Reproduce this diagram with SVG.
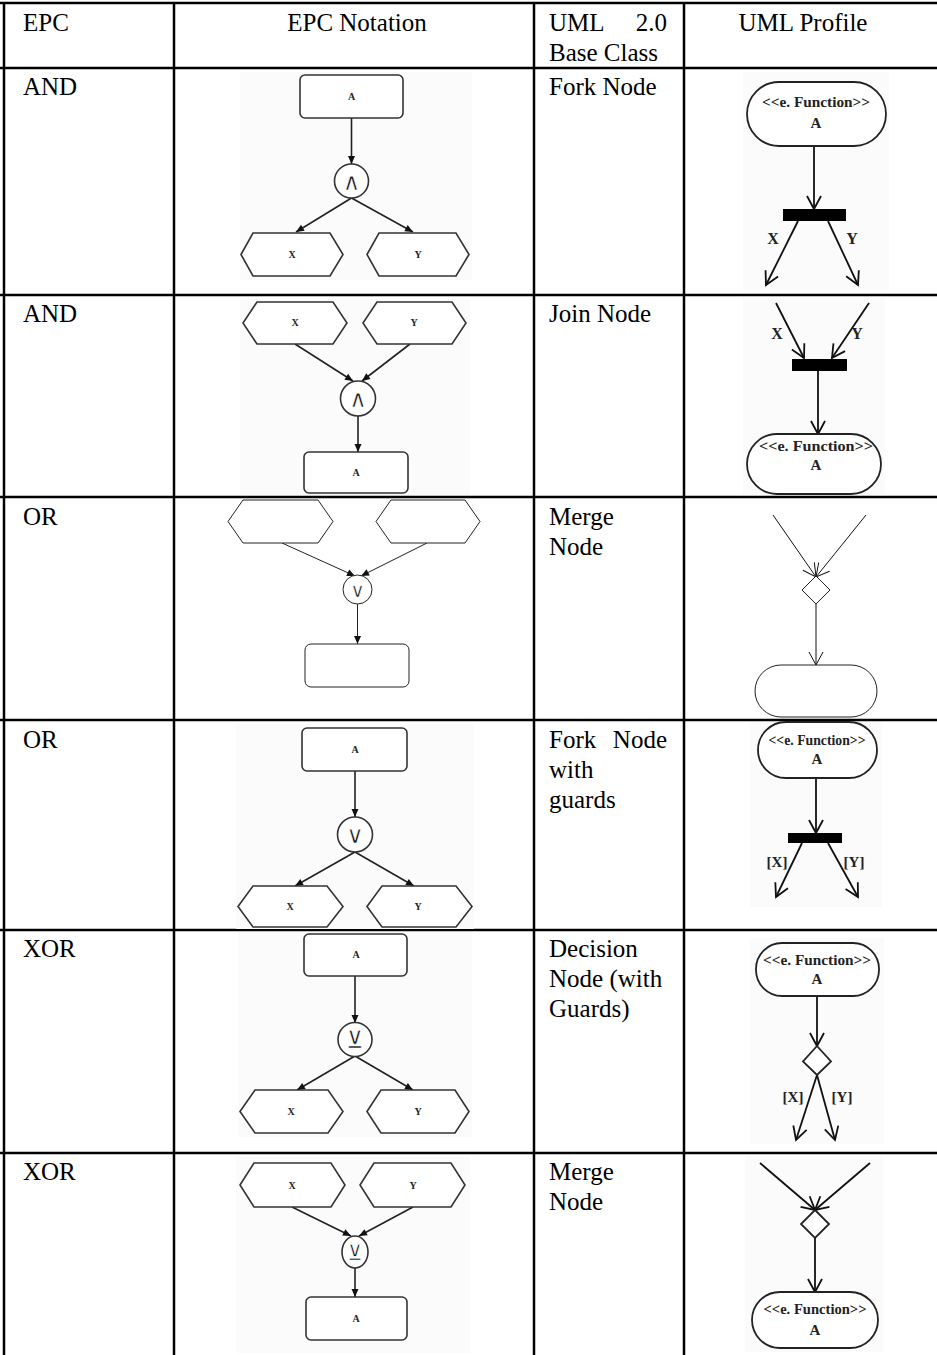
<svg xmlns="http://www.w3.org/2000/svg" width="937" height="1355" viewBox="0 0 937 1355">
<defs>
<marker id="fa" markerUnits="userSpaceOnUse" markerWidth="9" markerHeight="8" refX="8" refY="3.5" orient="auto" overflow="visible"><path d="M0,0 L8,3.5 L0,7 z" fill="#111"/></marker>
<marker id="ua" markerUnits="userSpaceOnUse" markerWidth="14" markerHeight="16" refX="13" refY="7" orient="auto" overflow="visible"><path d="M0,0 L13,7 L0,14" fill="none" stroke="#111" stroke-width="1.8"/></marker>
<marker id="ut" markerUnits="userSpaceOnUse" markerWidth="14" markerHeight="16" refX="13" refY="7" orient="auto" overflow="visible"><path d="M0,0 L13,7 L0,14" fill="none" stroke="#111" stroke-width="1"/></marker>
</defs>
<style>
.grid line{stroke:#000;stroke-width:2.5}
.t{font-family:"Liberation Serif","Times New Roman",serif;font-size:25px;fill:#000}
.bg{fill:#fbfbfb}
.e{fill:#fff;stroke:#333;stroke-width:1.6}
.ethin{fill:#fff;stroke:#222;stroke-width:1}
.lbl{font-family:"Liberation Serif","Times New Roman",serif;font-size:10px;font-weight:bold;text-anchor:middle;fill:#222}
.sym{font-family:"DejaVu Sans",sans-serif;font-size:24px;text-anchor:middle;fill:#111;stroke:#fff;stroke-width:0.6;paint-order:normal}
.ec{stroke:#222;stroke-width:1.6;fill:none}
.ecthin{stroke:#222;stroke-width:1;fill:none}
.u{fill:#fff;stroke:#222;stroke-width:1.8}
.uthin{fill:#fff;stroke:#222;stroke-width:1}
.uc{stroke:#111;stroke-width:1.8;fill:none}
.ucthin{stroke:#111;stroke-width:1;fill:none}
.bar{fill:#000}
.ut{font-family:"Liberation Serif","Times New Roman",serif;font-size:15px;font-weight:bold;text-anchor:middle;fill:#222}
.ul{font-family:"Liberation Serif","Times New Roman",serif;font-size:16px;font-weight:bold;text-anchor:middle;fill:#222}
</style>
<rect width="937" height="1355" fill="#fff"/>

<g id="table-grid" class="grid">
<line x1="0" y1="3" x2="937" y2="3"/>
<line x1="0" y1="68" x2="937" y2="68"/>
<line x1="0" y1="295" x2="937" y2="295"/>
<line x1="0" y1="497" x2="937" y2="497"/>
<line x1="0" y1="720" x2="937" y2="720"/>
<line x1="0" y1="930" x2="937" y2="930"/>
<line x1="0" y1="1153" x2="937" y2="1153"/>
<line x1="4" y1="3" x2="4" y2="1355"/>
<line x1="174" y1="3" x2="174" y2="1355"/>
<line x1="534" y1="3" x2="534" y2="1355"/>
<line x1="684" y1="3" x2="684" y2="1355"/>
</g>

<g id="cell-text" class="t">
<text x="23" y="31">EPC</text>
<text x="357" y="31" text-anchor="middle">EPC Notation</text>
<text x="549" y="31">UML</text>
<text x="667" y="31" text-anchor="end">2.0</text>
<text x="549" y="61">Base Class</text>
<text x="803" y="31" text-anchor="middle">UML Profile</text>
<text x="23" y="95">AND</text>
<text x="549" y="95">Fork Node</text>
<text x="23" y="322">AND</text>
<text x="549" y="322">Join Node</text>
<text x="23" y="525">OR</text>
<text x="549" y="525">Merge</text>
<text x="549" y="555">Node</text>
<text x="23" y="748">OR</text>
<text x="549" y="748">Fork</text>
<text x="667" y="748" text-anchor="end">Node</text>
<text x="549" y="778">with</text>
<text x="549" y="808">guards</text>
<text x="23" y="957">XOR</text>
<text x="549" y="957">Decision</text>
<text x="549" y="987">Node (with</text>
<text x="549" y="1017">Guards)</text>
<text x="23" y="1180">XOR</text>
<text x="549" y="1180">Merge</text>
<text x="549" y="1210">Node</text>
</g>

<g id="backgrounds">
<rect class="bg" x="240" y="72" width="232" height="208"/>
<rect class="bg" x="240" y="299" width="230" height="196"/>
<rect class="bg" x="236" y="724" width="238" height="205"/>
<rect class="bg" x="238" y="932" width="234" height="205"/>
<rect class="bg" x="236" y="1157" width="234" height="196"/>
<rect class="bg" x="743" y="72" width="146" height="218"/>
<rect class="bg" x="743" y="298" width="142" height="196"/>
<rect class="bg" x="750" y="722" width="132" height="185"/>
<rect class="bg" x="750" y="938" width="134" height="206"/>
<rect class="bg" x="745" y="1156" width="138" height="196"/>
</g>

<g id="connectors">
<line class="ec" x1="351.5" y1="118" x2="351.5" y2="164" marker-end="url(#fa)"/>
<line class="ec" x1="351.5" y1="198" x2="296" y2="232" marker-end="url(#fa)"/>
<line class="ec" x1="351.5" y1="198" x2="413" y2="232" marker-end="url(#fa)"/>
<line class="uc" x1="814" y1="146" x2="814" y2="209" marker-end="url(#ua)"/>
<line class="uc" x1="798" y1="221" x2="766" y2="285" marker-end="url(#ua)"/>
<line class="uc" x1="828" y1="221" x2="858" y2="285" marker-end="url(#ua)"/>
<line class="ec" x1="295" y1="344" x2="353" y2="381" marker-end="url(#fa)"/>
<line class="ec" x1="410" y1="344" x2="362" y2="381" marker-end="url(#fa)"/>
<line class="ec" x1="358" y1="416" x2="358" y2="452" marker-end="url(#fa)"/>
<line class="uc" x1="776" y1="303" x2="804" y2="358" marker-end="url(#ua)"/>
<line class="uc" x1="869" y1="303" x2="832" y2="358" marker-end="url(#ua)"/>
<line class="uc" x1="818" y1="371" x2="818" y2="434" marker-end="url(#ua)"/>
<line class="ecthin" x1="282" y1="543" x2="355" y2="576" marker-end="url(#fa)"/>
<line class="ecthin" x1="427" y1="543" x2="361" y2="576" marker-end="url(#fa)"/>
<line class="ecthin" x1="357.5" y1="604" x2="357.5" y2="644" marker-end="url(#fa)"/>
<line class="ucthin" x1="773" y1="515" x2="816" y2="577" marker-end="url(#ut)"/>
<line class="ucthin" x1="866" y1="515" x2="816" y2="577" marker-end="url(#ut)"/>
<line class="ucthin" x1="816" y1="604" x2="816" y2="665" marker-end="url(#ut)"/>
<line class="ec" x1="355" y1="771" x2="355" y2="817" marker-end="url(#fa)"/>
<line class="ec" x1="355" y1="852" x2="295" y2="886" marker-end="url(#fa)"/>
<line class="ec" x1="355" y1="852" x2="414" y2="886" marker-end="url(#fa)"/>
<line class="uc" x1="816" y1="778" x2="816" y2="833" marker-end="url(#ua)"/>
<line class="uc" x1="802" y1="843" x2="776" y2="897" marker-end="url(#ua)"/>
<line class="uc" x1="828" y1="843" x2="858" y2="897" marker-end="url(#ua)"/>
<line class="ec" x1="355" y1="976" x2="355" y2="1023" marker-end="url(#fa)"/>
<line class="ec" x1="355" y1="1056" x2="297" y2="1090" marker-end="url(#fa)"/>
<line class="ec" x1="355" y1="1056" x2="413" y2="1090" marker-end="url(#fa)"/>
<line class="uc" x1="817" y1="996" x2="817" y2="1046" marker-end="url(#ua)"/>
<line class="uc" x1="817" y1="1075" x2="796" y2="1140" marker-end="url(#ua)"/>
<line class="uc" x1="817" y1="1075" x2="835" y2="1140" marker-end="url(#ua)"/>
<line class="ec" x1="292" y1="1207" x2="351" y2="1236" marker-end="url(#fa)"/>
<line class="ec" x1="413" y1="1207" x2="359" y2="1236" marker-end="url(#fa)"/>
<line class="ec" x1="355" y1="1268" x2="355" y2="1297" marker-end="url(#fa)"/>
<line class="uc" x1="760" y1="1163" x2="815" y2="1210" marker-end="url(#ua)"/>
<line class="uc" x1="870" y1="1163" x2="815" y2="1210" marker-end="url(#ua)"/>
<line class="uc" x1="815" y1="1238" x2="815" y2="1292" marker-end="url(#ua)"/>
</g>

<g id="r1-func-A"><rect class="e" x="300" y="75" width="103" height="43" rx="5"/><text class="lbl" x="351.5" y="100">A</text></g>
<g id="r1-and"><circle class="e" cx="351.5" cy="181" r="17"/><text class="sym" x="351.5" y="189.5">∧</text></g>
<g id="r1-ev-X"><polygon class="e" points="241,254.5 253,233 330,233 343,254.5 330,276 253,276"/><text class="lbl" x="292" y="258">X</text></g>
<g id="r1-ev-Y"><polygon class="e" points="367,254.5 379,233 456,233 469,254.5 456,276 379,276"/><text class="lbl" x="418" y="258">Y</text></g>
<g id="r1-uml-A"><rect class="u" x="747" y="82" width="139" height="64" rx="32"/><text class="ut" x="816" y="107" textLength="108" lengthAdjust="spacingAndGlyphs">&lt;&lt;e. Function&gt;&gt;</text><text class="ut" x="816" y="128">A</text></g>
<g id="r1-fork"><rect class="bar" x="783" y="209" width="63" height="12"/></g>
<g id="r1-uml-labels"><text class="ul" x="773" y="244">X</text><text class="ul" x="852" y="244">Y</text></g>

<g id="r2-ev-X"><polygon class="e" points="243,323 257,302 333,302 347,323 333,344 257,344"/><text class="lbl" x="295" y="326">X</text></g>
<g id="r2-ev-Y"><polygon class="e" points="363,323 377,302 452,302 466,323 452,344 377,344"/><text class="lbl" x="414" y="326">Y</text></g>
<g id="r2-and"><circle class="e" cx="358" cy="398.5" r="17.5"/><text class="sym" x="358" y="407">∧</text></g>
<g id="r2-func-A"><rect class="e" x="304" y="452" width="104" height="41" rx="5"/><text class="lbl" x="356" y="476">A</text></g>
<g id="r2-join"><rect class="bar" x="792" y="359" width="55" height="12"/></g>
<g id="r2-uml-A"><rect class="u" x="747" y="434" width="134" height="60" rx="30"/><text class="ut" x="816" y="451" textLength="114" lengthAdjust="spacingAndGlyphs">&lt;&lt;e. Function&gt;&gt;</text><text class="ut" x="816" y="470">A</text></g>
<g id="r2-uml-labels"><text class="ul" x="777" y="339">X</text><text class="ul" x="857" y="339">Y</text></g>

<g id="r3-ev-left"><polygon class="ethin" points="228,521.5 243,500 318,500 333,521.5 318,543 243,543"/></g>
<g id="r3-ev-right"><polygon class="ethin" points="376,521.5 391,500 465,500 480,521.5 465,543 391,543"/></g>
<g id="r3-or"><circle class="ethin" cx="357.5" cy="589.5" r="14.5"/><text class="sym" x="357.5" y="597" style="font-size:20px">∨</text></g>
<g id="r3-func"><rect class="ethin" x="305" y="644" width="104" height="43" rx="6"/></g>
<g id="r3-merge"><polygon class="uthin" points="816,576 830,590 816,604 802,590"/></g>
<g id="r3-uml-action"><rect class="uthin" x="755" y="665" width="122" height="52" rx="26"/></g>

<g id="r4-func-A"><rect class="e" x="302" y="728" width="105" height="43" rx="5"/><text class="lbl" x="355" y="753">A</text></g>
<g id="r4-or"><circle class="e" cx="355" cy="834.5" r="17.5"/><text class="sym" x="355" y="843">∨</text></g>
<g id="r4-ev-X"><polygon class="e" points="238,906.5 253,886 327,886 343,906.5 327,927 253,927"/><text class="lbl" x="290" y="910">X</text></g>
<g id="r4-ev-Y"><polygon class="e" points="367,906.5 382,886 456,886 472,906.5 456,927 382,927"/><text class="lbl" x="418" y="910">Y</text></g>
<g id="r4-uml-A"><rect class="u" x="758" y="722" width="119" height="56" rx="28"/><text class="ut" x="817" y="745" textLength="97" lengthAdjust="spacingAndGlyphs">&lt;&lt;e. Function&gt;&gt;</text><text class="ut" x="817" y="764">A</text></g>
<g id="r4-fork"><rect class="bar" x="788" y="833" width="54" height="10"/></g>
<g id="r4-uml-labels"><text class="ut" x="777" y="867">[X]</text><text class="ut" x="854" y="867">[Y]</text></g>

<g id="r5-func-A"><rect class="e" x="304" y="934" width="103" height="42" rx="5"/><text class="lbl" x="356" y="958">A</text></g>
<g id="r5-xor"><circle class="e" cx="355" cy="1039.5" r="17"/><text class="sym" x="355" y="1048">⊻</text></g>
<g id="r5-ev-X"><polygon class="e" points="240,1111.5 255,1090 328,1090 343,1111.5 328,1133 255,1133"/><text class="lbl" x="291" y="1115">X</text></g>
<g id="r5-ev-Y"><polygon class="e" points="367,1111.5 381,1090 455,1090 469,1111.5 455,1133 381,1133"/><text class="lbl" x="418" y="1115">Y</text></g>
<g id="r5-uml-A"><rect class="u" x="756" y="943" width="123" height="53" rx="26"/><text class="ut" x="817" y="965" textLength="108" lengthAdjust="spacingAndGlyphs">&lt;&lt;e. Function&gt;&gt;</text><text class="ut" x="817" y="984">A</text></g>
<g id="r5-decision"><polygon class="u" points="817,1046 831,1061.5 817,1075 803,1061.5"/></g>
<g id="r5-uml-labels"><text class="ut" x="793" y="1102">[X]</text><text class="ut" x="842" y="1102">[Y]</text></g>

<g id="r6-ev-X"><polygon class="e" points="240,1185 254,1163 331,1163 345,1185 331,1207 254,1207"/><text class="lbl" x="292" y="1189">X</text></g>
<g id="r6-ev-Y"><polygon class="e" points="360,1185 374,1163 451,1163 465,1185 451,1207 374,1207"/><text class="lbl" x="413" y="1189">Y</text></g>
<g id="r6-xor"><ellipse class="e" cx="355" cy="1252" rx="13" ry="16"/><text class="sym" x="355" y="1259.5" style="font-size:21px">⊻</text></g>
<g id="r6-func-A"><rect class="e" x="306" y="1297" width="101" height="43" rx="5"/><text class="lbl" x="356" y="1322">A</text></g>
<g id="r6-merge"><polygon class="u" points="815,1210 829,1224 815,1238 801,1224"/></g>
<g id="r6-uml-A"><rect class="u" x="752" y="1292" width="126" height="56" rx="28"/><text class="ut" x="815" y="1314" textLength="103" lengthAdjust="spacingAndGlyphs">&lt;&lt;e. Function&gt;&gt;</text><text class="ut" x="815" y="1335">A</text></g>
</svg>
